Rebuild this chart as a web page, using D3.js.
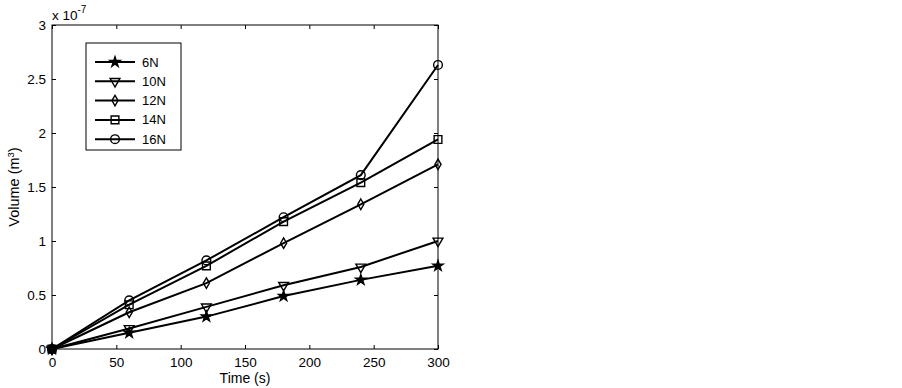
<!DOCTYPE html>
<html lang="en">
<head>
<style>
  body { margin: 0; background: #fff; }
  text { font-family: "Liberation Sans", Arial, sans-serif; }
</style>
</head>
<body>
<script src="https://d3js.org/d3.v7.min.js"></script>
<script>
  // time in seconds, volumes in units of 1e-7 m^3
  const times = [0, 60, 120, 180, 240, 300];
  const v6N  = [0, 0.15, 0.30, 0.49, 0.64, 0.77];
  const v10N = [0, 0.19, 0.39, 0.59, 0.76, 1.00];
  const v12N = [0, 0.34, 0.61, 0.98, 1.34, 1.71];
  const v14N = [0, 0.41, 0.77, 1.18, 1.54, 1.94];
  const v16N = [0, 0.45, 0.82, 1.22, 1.61, 2.63];
  const seriesNames = ["6N", "10N", "12N", "14N", "16N"];
  const seriesVals = [v6N, v10N, v12N, v14N, v16N];
  const markerTypes = ["star", "tri", "diamond", "square", "circle"];
  const xTicks = [0, 50, 100, 150, 200, 250, 300];
  const yTicks = [0, 0.5, 1, 1.5, 2, 2.5, 3];

  const width = 902, height = 388;
  const mLeft = 52, mRight = 438, mTop = 25, mBottom = 349;

  const svg = d3.select("body").append("svg")
      .attr("width", width).attr("height", height);

  const x = d3.scaleLinear().domain([0, 300]).range([mLeft, mRight]);
  const y = d3.scaleLinear().domain([0, 3]).range([mBottom, mTop]);
  const fmt = d => String(d);

  // ticks (inside, on all four sides)
  svg.append("g").attr("transform", "translate(0," + mBottom + ")")
      .call(d3.axisBottom(x).tickValues(xTicks).tickFormat(fmt).tickSizeInner(-4).tickSizeOuter(0).tickPadding(8))
      .call(g => g.select(".domain").remove());
  svg.append("g").attr("transform", "translate(0," + mTop + ")")
      .call(d3.axisTop(x).tickValues(xTicks).tickSizeInner(-4).tickSizeOuter(0).tickFormat(""))
      .call(g => g.select(".domain").remove());
  svg.append("g").attr("transform", "translate(" + mLeft + ",0)")
      .call(d3.axisLeft(y).tickValues(yTicks).tickFormat(fmt).tickSizeInner(-4).tickSizeOuter(0).tickPadding(6))
      .call(g => g.select(".domain").remove());
  svg.append("g").attr("transform", "translate(" + mRight + ",0)")
      .call(d3.axisRight(y).tickValues(yTicks).tickSizeInner(-4).tickSizeOuter(0).tickFormat(""))
      .call(g => g.select(".domain").remove());

  svg.selectAll(".tick text").attr("font-size", 13.5).attr("fill", "#000")
      .style("font-family", "'Liberation Sans', Arial, sans-serif");
  svg.selectAll(".tick line").attr("stroke", "#000");

  svg.append("rect").attr("x", mLeft).attr("y", mTop)
      .attr("width", mRight - mLeft).attr("height", mBottom - mTop)
      .attr("fill", "none").attr("stroke", "#000").attr("stroke-width", 1);

  const symbolOf = {
    star: d3.symbol().type(d3.symbolStar).size(32),
    tri: d3.symbol().type(d3.symbolTriangle).size(42),
    diamond: d3.symbol().type(d3.symbolDiamond).size(32),
    square: d3.symbol().type(d3.symbolSquare).size(60),
    circle: d3.symbol().type(d3.symbolCircle).size(60)
  };

  function drawMarker(g, type, cx, cy) {
    const p = g.append("path").attr("d", symbolOf[type]())
        .attr("stroke", "#000").attr("stroke-width", 1.4);
    if (type === "tri") p.attr("transform", "translate(" + cx + "," + cy + ") rotate(180)");
    else p.attr("transform", "translate(" + cx + "," + cy + ")");
    p.attr("fill", type === "star" ? "#000" : "none");
  }

  const line = d3.line().x((d, i) => x(times[i])).y(d => y(d));

  seriesVals.forEach((vals, k) => {
    const g = svg.append("g");
    g.append("path").datum(vals).attr("d", line)
        .attr("fill", "none").attr("stroke", "#000").attr("stroke-width", 2);
    vals.forEach((v, i) => drawMarker(g, markerTypes[k], x(times[i]), y(v)));
  });

  // legend
  const lg = svg.append("g");
  lg.append("rect").attr("x", 86).attr("y", 43).attr("width", 95).attr("height", 107)
      .attr("fill", "#fff").attr("stroke", "#000").attr("stroke-width", 1);
  seriesNames.forEach((name, k) => {
    const ly = 62 + k * 19.3;
    lg.append("line").attr("x1", 95).attr("x2", 135).attr("y1", ly).attr("y2", ly)
        .attr("stroke", "#000").attr("stroke-width", 2);
    drawMarker(lg, markerTypes[k], 115, ly);
    lg.append("text").attr("x", 142).attr("y", ly + 4.5).attr("font-size", 13).text(name);
  });

  // exponent label
  const ex = svg.append("text").attr("x", 52).attr("y", 20).attr("font-size", 13.5);
  ex.append("tspan").text("x 10");
  ex.append("tspan").attr("dy", -7).attr("font-size", 10).text("-7");

  svg.append("text").attr("x", 245).attr("y", 383).attr("text-anchor", "middle")
      .attr("font-size", 14).text("Time (s)");
  const yl = svg.append("text").attr("transform", "translate(19,187) rotate(-90)")
      .attr("text-anchor", "middle").attr("font-size", 14.5);
  yl.append("tspan").text("Volume (m");
  yl.append("tspan").attr("dy", -5).attr("font-size", 9.5).text("3");
  yl.append("tspan").attr("dy", 5).text(")");
</script>
</body>
</html>
